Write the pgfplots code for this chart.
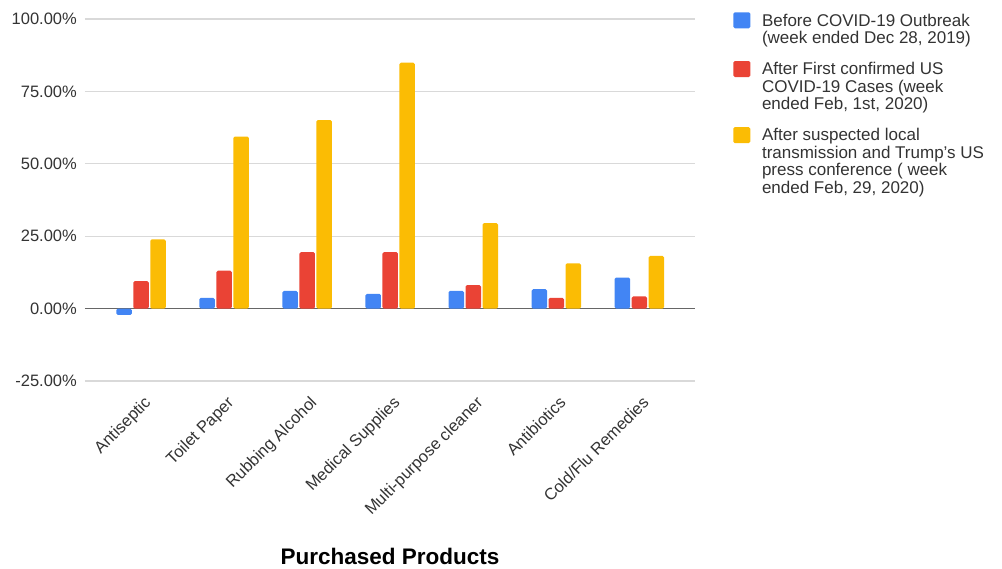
\documentclass[border=0pt]{standalone}
\usepackage{pgfplots}
\pgfplotsset{compat=1.18}
\usepackage{fontspec}
\setmainfont{Liberation Sans}

\definecolor{gblue}{HTML}{4285F4}
\definecolor{gred}{HTML}{EA4335}
\definecolor{gyellow}{HTML}{FBBC04}
\definecolor{gridgray}{HTML}{D9D9D9}
\definecolor{zerogray}{HTML}{666666}
\definecolor{txt}{HTML}{333333}

% Weekly sales change by product, in percent
\pgfplotstableread{
idx before first local
0   -2.2   9.5  23.9
1    3.7  13.1  59.4
2    6.1  19.5  65.1
3    5.1  19.5  84.9
4    6.1   8.1  29.5
5    6.7   3.7  15.6
6   10.7   4.2  18.2
}\salesdata

\begin{document}
\begin{tikzpicture}
\path[use as bounding box] (-85bp,-188bp) rectangle (917bp,381bp);
\begin{axis}[
  scale only axis,
  width=610bp, height=362bp,
  xmin=-0.675, xmax=6.67,
  ymin=-25, ymax=100,
  ytick={-25,0,25,50,75,100},
  xtick=data,
  xticklabels={Antiseptic,Toilet Paper,Rubbing Alcohol,Medical Supplies,Multi-purpose cleaner,Antibiotics,Cold/Flu Remedies},
  axis line style={draw=none},
  major tick length=0pt,
  ymajorgrids,
  grid style={gridgray, line width=1.2bp},
  extra y ticks={0},
  extra y tick labels={},
  extra y tick style={grid style={zerogray, line width=1.5bp}},
  /pgf/number format/assume math mode=true,
  yticklabel={\pgfmathprintnumber[fixed,fixed zerofill,precision=2]{\tick}\%},
  yticklabel style={font=\fontsize{16.5bp}{19bp}\selectfont, text=txt, anchor=east, inner sep=0pt, xshift=-8bp},
  xticklabel style={font=\fontsize{16.5bp}{19bp}\selectfont, text=txt, xshift=2bp, yshift=-14bp, rotate=45, anchor=north east, inner sep=0pt},
  xlabel={Purchased Products},
  xlabel style={font=\fontsize{22.5bp}{26bp}\selectfont\bfseries, text=black, at={(axis description cs:0.5,-0.508)}, anchor=base},
  ybar=1.5bp,
  bar width=15.5bp,
  every axis plot/.append style={draw=none, rounded corners=1.5bp},
  legend cell align=left,
  legend style={
    at={(1.0628,1.0185)}, anchor=north west,
    draw=none, fill=none, inner sep=0pt, outer sep=0pt,
    row sep=16bp, column sep=11.7bp,
    cells={anchor=north west},
    nodes={inner sep=0pt, align=left, text=txt, font=\fontsize{17bp}{17.4bp}\selectfont},
  },
  legend image code/.code={\fill[#1, draw=none, rounded corners=1.5bp] (0bp,1.5bp) rectangle (17bp,-14.5bp);},
]
\addplot[fill=gblue] table[x=idx, y=before] {\salesdata};
\addlegendentry{Before COVID-19 Outbreak\\(week ended Dec 28, 2019)}
\addplot[fill=gred] table[x=idx, y=first] {\salesdata};
\addlegendentry{After First confirmed US\\COVID-19 Cases (week\\ended Feb, 1st, 2020)}
\addplot[fill=gyellow] table[x=idx, y=local] {\salesdata};
\addlegendentry{After suspected local\\transmission and Trump's US\\press conference ( week\\ended Feb, 29, 2020)}
\end{axis}
\end{tikzpicture}
\end{document}
